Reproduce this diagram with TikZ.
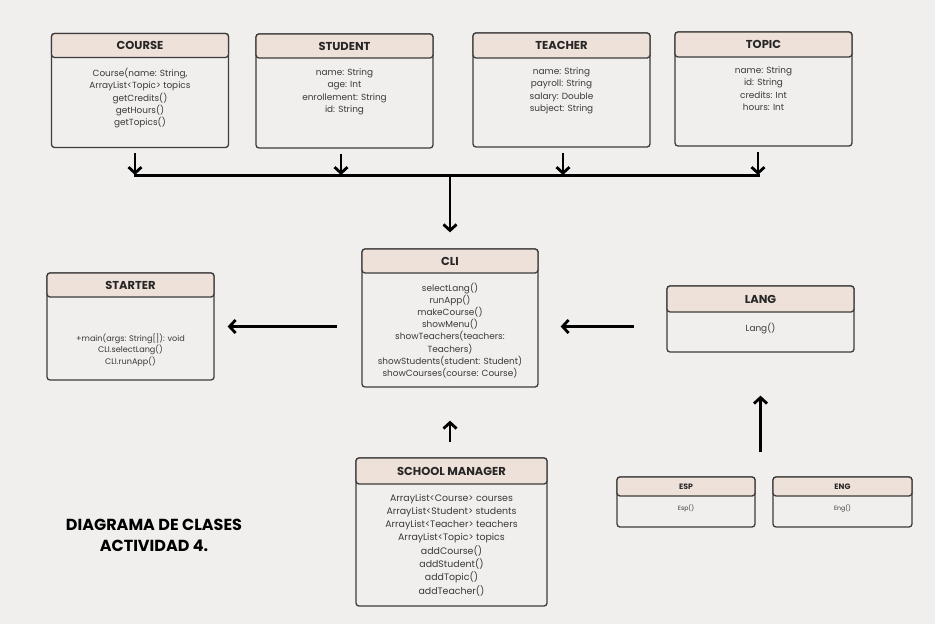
\documentclass[tikz,border=0pt]{standalone}
\usepackage{fontspec}
\setmainfont{Poppins}
\usetikzlibrary{positioning,arrows.meta}
\definecolor{bgcol}{HTML}{F0EFED}
\definecolor{headcol}{HTML}{EEE1D9}
\definecolor{linecol}{HTML}{3E3C3C}
\definecolor{txtcol}{HTML}{3A3838}
\begin{document}
\begin{tikzpicture}[x=1pt,y=-1pt,
  box/.style={draw=linecol,line width=1.3pt,rounded corners=3pt},
  head/.style={draw=linecol,line width=1.3pt,rounded corners=3pt,fill=headcol,
    anchor=north,text=black!85,font=\bfseries\fontsize{11.5}{13}\selectfont},
  members/.style={inner sep=0pt,align=center,text=txtcol,font=\fontsize{8.9}{12.2}\selectfont},
  arr/.style={line width=2.8pt,-{Straight Barb[length=6pt,width=13pt]}}]

  \fill[bgcol] (0,0) rectangle (935,624);
  \useasboundingbox (0,0) rectangle (935,624);

  % top classes
  \node[box,minimum width=177,minimum height=114] (course) at (140,90.5) {};
  \node[head,minimum width=177,minimum height=24] (coursehead) at (course.north) {COURSE};
  \node[members,below=10pt of coursehead] (coursebody) {Course(name: String,\\ArrayList<Topic> topics\\getCredits()\\getHours()\\getTopics()};

  \node[box,minimum width=177,minimum height=114] (student) at (344.5,91) {};
  \node[head,minimum width=177,minimum height=24] (studenthead) at (student.north) {STUDENT};
  \node[members,below=10pt of studenthead] (studentbody) {name: String\\age: Int\\enrollement: String\\id: String};

  \node[box,minimum width=177,minimum height=114] (teacher) at (561.5,90) {};
  \node[head,minimum width=177,minimum height=25] (teacherhead) at (teacher.north) {TEACHER};
  \node[members,below=9pt of teacherhead] (teacherbody) {name: String\\payroll: String\\salary: Double\\subject: String};

  \node[box,minimum width=177,minimum height=114] (topic) at (763.5,89) {};
  \node[head,minimum width=177,minimum height=25] (topichead) at (topic.north) {TOPIC};
  \node[members,below=9pt of topichead] (topicbody) {name: String\\id: String\\credits: Int\\hours: Int};

  % middle row
  \node[box,minimum width=176,minimum height=138] (cli) at (450,318) {};
  \node[head,minimum width=176,minimum height=24] (clihead) at (cli.north) {CLI};
  \node[members,below=9pt of clihead] (clibody) {selectLang()\\runApp()\\makeCourse()\\showMenu()\\showTeachers(teachers:\\Teachers)\\showStudents(student: Student)\\showCourses(course: Course)};

  \node[box,minimum width=167,minimum height=107] (starter) at (130.5,326.5) {};
  \node[head,minimum width=167,minimum height=24] (starterhead) at (starter.north) {STARTER};
  \node[members,below=36pt of starterhead,font=\fontsize{8.1}{11.5}\selectfont] (starterbody) {+main(args: String[]): void\\CLI.selectLang()\\CLI.runApp()};

  \node[box,minimum width=187,minimum height=66] (lang) at (760.5,319) {};
  \node[head,minimum width=187,minimum height=26] (langhead) at (lang.north) {LANG};
  \node[members,below=10pt of langhead] (langbody) {Lang()};

  % bottom row
  \node[box,minimum width=191,minimum height=148] (school) at (451.5,532) {};
  \node[head,minimum width=191,minimum height=26] (schoolhead) at (school.north) {SCHOOL MANAGER};
  \node[members,below=9pt of schoolhead,font=\fontsize{9.4}{13.3}\selectfont] (schoolbody) {ArrayList<Course> courses\\ArrayList<Student> students\\ArrayList<Teacher> teachers\\ArrayList<Topic> topics\\addCourse()\\addStudent()\\addTopic()\\addTeacher()};

  \node[box,minimum width=138,minimum height=50] (esp) at (686,502) {};
  \node[head,minimum width=138,minimum height=19,font=\bfseries\fontsize{7.8}{9}\selectfont] (esphead) at (esp.north) {ESP};
  \node[members,below=8pt of esphead,font=\fontsize{6.2}{8}\selectfont] (espbody) {Esp()};

  \node[box,minimum width=139,minimum height=50] (eng) at (842.5,502) {};
  \node[head,minimum width=139,minimum height=19,font=\bfseries\fontsize{7.8}{9}\selectfont] (enghead) at (eng.north) {ENG};
  \node[members,below=8pt of enghead,font=\fontsize{6.2}{8}\selectfont] (engbody) {Eng()};

  \node[align=center,inner sep=0pt,font=\bfseries\fontsize{16}{21}\selectfont] (title) at (154,535) {DIAGRAMA DE CLASES\\ACTIVIDAD 4.};

  % connectors
  \coordinate (b1) at (135,175);
  \coordinate (b2) at (341,175);
  \coordinate (b3) at (563,175);
  \coordinate (b4) at (758,175);
  \coordinate (bm) at (450,175);
  \draw[line width=3pt] ([xshift=-1.5pt]b1) -- ([xshift=1.5pt]b4);
  \draw[arr] ([yshift=-5pt]b1 |- course.south) -- (b1);
  \draw[arr] ([yshift=-5pt]b2 |- student.south) -- (b2);
  \draw[arr] ([yshift=-5pt]b3 |- teacher.south) -- (b3);
  \draw[arr] ([yshift=-5pt]b4 |- topic.south) -- (b4);
  \draw[arr] (bm) -- ([yshift=16pt]cli.north);
  \draw[arr] ([xshift=-24pt]cli.west |- starter.east) -- ([xshift=13pt]starter.east);
  \draw[arr] ([xshift=-32pt]lang.west |- starter.east) -- ([xshift=22pt]cli.east |- starter.east);
  \draw[arr] ([yshift=24pt]lang.south |- esp.north) -- ([yshift=-43pt]lang.south);
  \draw[arr] ([yshift=15pt]cli.south |- school.north) -- ([yshift=-33pt]cli.south);
\end{tikzpicture}
\end{document}
